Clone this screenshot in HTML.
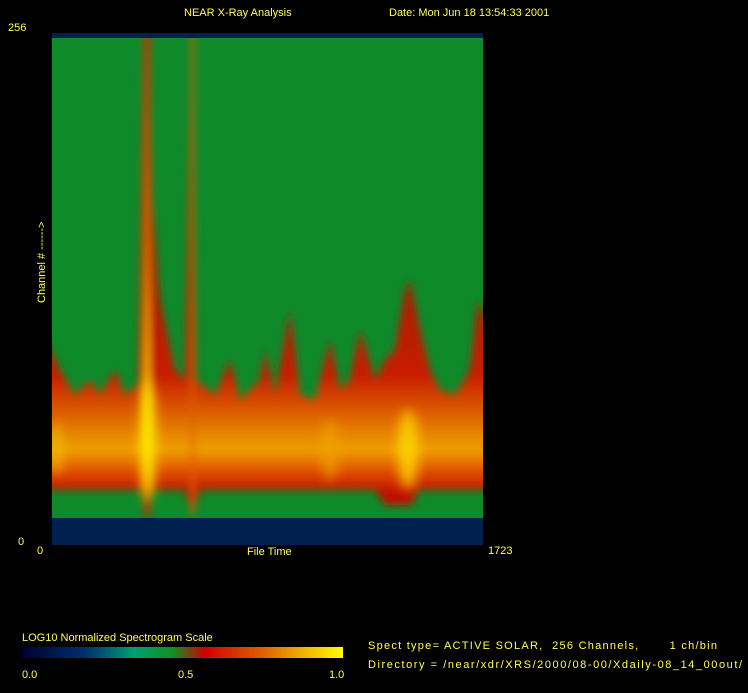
<!DOCTYPE html>
<html><head><style>
html,body{margin:0;padding:0;background:#000;}
body{width:748px;height:693px;overflow:hidden;position:relative;font-family:"Liberation Sans",sans-serif;}
svg{position:absolute;left:0;top:0;}
text{font-family:"Liberation Sans",sans-serif;fill:#ffff50;font-size:11px;white-space:pre;}
</style></head><body>
<svg width="748" height="693" viewBox="0 0 748 693">
<defs>
<linearGradient id="rg" x1="0" y1="280" x2="0" y2="492" gradientUnits="userSpaceOnUse">
<stop offset="0" stop-color="#a82000"/>
<stop offset="0.45" stop-color="#c81c00"/>
<stop offset="0.66" stop-color="#e06a00"/>
<stop offset="0.8" stop-color="#eea000"/>
<stop offset="0.9" stop-color="#e05000"/>
<stop offset="1" stop-color="#c01000"/>
</linearGradient>
<linearGradient id="yg" x1="0" y1="40" x2="0" y2="518" gradientUnits="userSpaceOnUse">
<stop offset="0" stop-color="#d03000"/>
<stop offset="0.45" stop-color="#e07000"/>
<stop offset="0.85" stop-color="#ffe000"/>
<stop offset="0.95" stop-color="#e06000"/>
<stop offset="1" stop-color="#c01000"/>
</linearGradient>
<linearGradient id="cb" x1="0" x2="1" y1="0" y2="0">
<stop offset="0" stop-color="#000030"/>
<stop offset="0.2" stop-color="#003070"/>
<stop offset="0.35" stop-color="#00a070"/>
<stop offset="0.47" stop-color="#109020"/>
<stop offset="0.57" stop-color="#d00000"/>
<stop offset="0.75" stop-color="#e06000"/>
<stop offset="1" stop-color="#ffff00"/>
</linearGradient>
<filter id="b1" x="-10%" y="-10%" width="120%" height="120%"><feGaussianBlur stdDeviation="4"/></filter>
<filter id="b2"><feGaussianBlur stdDeviation="6"/></filter>
<clipPath id="pc"><rect x="52" y="38" width="431" height="480"/></clipPath>
</defs>
<rect x="52" y="33" width="431" height="512" fill="#0e8a2a"/>
<g clip-path="url(#pc)">
<g filter="url(#b1)">
<polygon fill="url(#rg)" points="40,330 60,370 75,395 90,380 100,395 115,370 125,395 138,385 144,60 148,30 152,200 160,300 175,370 185,380 192,40 196,380 215,395 230,360 240,400 260,380 265,350 275,395 290,310 300,395 315,400 330,340 340,390 350,380 360,330 375,380 385,360 395,350 405,290 410,280 420,330 430,370 440,390 455,395 470,370 478,300 495,340 495,490 418,490 412,505 385,505 375,490 200,490 192,515 185,490 152,490 146,515 142,490 40,490"/>
<rect x="144" y="30" width="6" height="486" fill="url(#yg)"/>
<rect x="191" y="30" width="3" height="486" fill="#e06000"/>
</g>
<g filter="url(#b2)" opacity="0.8">
<ellipse cx="148" cy="440" rx="8" ry="60" fill="#ffe800"/>
<ellipse cx="408" cy="450" rx="10" ry="40" fill="#ffe000"/>
<ellipse cx="56" cy="450" rx="6" ry="25" fill="#f0c000"/>
<ellipse cx="330" cy="450" rx="8" ry="30" fill="#f0a000"/>
</g>
</g>
<rect x="52" y="33" width="431" height="5" fill="#002050"/>
<rect x="52" y="518" width="431" height="27" fill="#002050"/>
<text x="184" y="16" font-size="12">NEAR X-Ray Analysis</text>
<text x="389" y="16" font-size="11">Date: Mon Jun 18 13:54:33 2001</text>
<text x="8" y="31">256</text>
<text x="18" y="545">0</text>
<text x="37" y="554">0</text>
<text x="247" y="555">File Time</text>
<text x="488" y="554">1723</text>
<text transform="translate(45,303) rotate(-90)" font-size="11">Channel # ------&gt;</text>
<text x="22" y="641">LOG10 Normalized Spectrogram Scale</text>
<rect x="22" y="647" width="321" height="11" fill="url(#cb)"/>
<text x="22" y="678">0.0</text>
<text x="178" y="678">0.5</text>
<text x="329" y="678">1.0</text>
<text x="368" y="649" textLength="349">Spect type= ACTIVE SOLAR,  256 Channels,       1 ch/bin</text>
<text x="368" y="668" textLength="374">Directory = /near/xdr/XRS/2000/08-00/Xdaily-08_14_00out/</text>
</svg>
</body></html>
